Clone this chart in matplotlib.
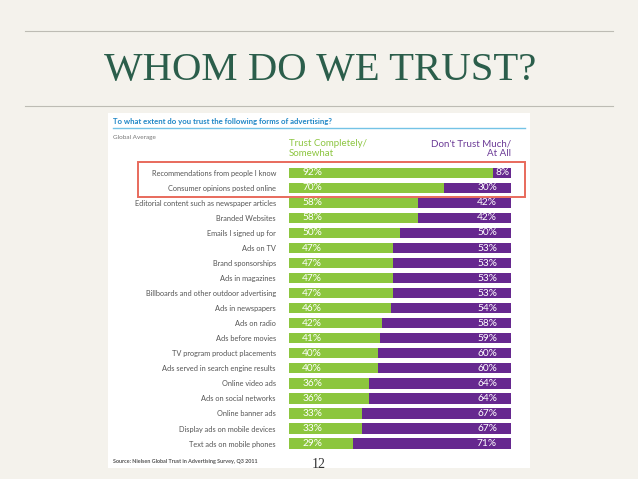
import matplotlib.pyplot as plt
from matplotlib.patches import Rectangle

# data
categories = [
    'Recommendations from people I know',
    'Consumer opinions posted online',
    'Editorial content such as newspaper articles',
    'Branded Websites',
    'Emails I signed up for',
    'Ads on TV',
    'Brand sponsorships',
    'Ads in magazines',
    'Billboards and other outdoor advertising',
    'Ads in newspapers',
    'Ads on radio',
    'Ads before movies',
    'TV program product placements',
    'Ads served in search engine results',
    'Online video ads',
    'Ads on social networks',
    'Online banner ads',
    'Display ads on mobile devices',
    'Text ads on mobile phones',
]
trust = [92, 70, 58, 58, 50, 47, 47, 47, 47, 46, 42, 41, 40, 40, 36, 36, 33, 33, 29]
distrust = [8, 30, 42, 42, 50, 53, 53, 53, 53, 54, 58, 59, 60, 60, 64, 64, 67, 67, 71]

W, H = 638, 479
GREEN = '#8cc63e'
PURPLE = '#66288f'
BG = '#f4f2ec'

plt.rcParams['font.family'] = ['Lato', 'DejaVu Sans']

fig = plt.figure(figsize=(W / 100, H / 100), dpi=100, facecolor=BG)

# background layer in pixel coordinates
bg = fig.add_axes([0, 0, 1, 1])
bg.set_xlim(0, W)
bg.set_ylim(H, 0)
bg.axis('off')

bg.plot([25, 613], [31, 31], color='#bdbcb4', lw=0.8)
bg.plot([25, 613], [106, 106], color='#bdbcb4', lw=0.8)
bg.text(320, 70, 'WHOM DO WE TRUST?', ha='center', va='center',
        fontsize=29.3, color='#2b5e4b', family=['Liberation Serif'])

# white chart panel
bg.add_patch(Rectangle((108, 113), 422, 355, facecolor='white', edgecolor='none'))
bg.text(113, 121, 'To what extent do you trust the following forms of advertising?',
        ha='left', va='center', fontsize=5.6, color='#1f86c6', fontweight='bold')
bg.plot([113, 525], [128, 128], color='#74c3e6', lw=1.0)
bg.text(113, 138, 'Global Average', ha='left', va='center', fontsize=4.6, color='#777777')
bg.text(289, 148.5, 'Trust Completely/\nSomewhat', ha='left', va='center',
        fontsize=7, color='#8dc641', linespacing=1.1)
bg.text(511, 148.5, "Don't Trust Much/\nAt All", ha='right', va='center',
        fontsize=7, color='#6b3a96', linespacing=1.1)
bg.text(113, 462, 'Source: Nielsen Global Trust in Advertising Survey, Q3 2011',
        ha='left', va='center', fontsize=3.9, color='#555555', fontweight='bold')
bg.text(319, 465, '12', ha='center', va='center', fontsize=10, color='#333333',
        family=['Liberation Serif'])

# highlight box around top two rows
bg.add_patch(Rectangle((138, 162), 387, 34.5, facecolor='none', edgecolor='#e86a5c', lw=1.4))

# bar chart
ax = fig.add_axes([289 / W, 1 - 451.1 / H, 222 / W, 285.8 / H])
ax.set_facecolor('none')
y = list(range(len(categories)))
ax.barh(y, trust, height=0.68, color=GREEN, edgecolor='none')
ax.barh(y, distrust, left=trust, height=0.68, color=PURPLE, edgecolor='none')
for i, (t, d) in enumerate(zip(trust, distrust)):
    ax.text(5.9, i, f'{t}%', ha='left', va='center', color='white', fontsize=7.3)
    xd = 99.6 if d < 15 else 93.7
    ax.text(xd, i, f'{d}%', ha='right', va='center', color='white', fontsize=7.3)
ax.set_xlim(0, 100)
ax.set_ylim(len(categories) - 0.5, -0.5)
ax.set_yticks(y)
ax.set_yticklabels(categories, fontsize=5.3, color='#555555')
ax.tick_params(axis='y', length=0, pad=9.4)
ax.set_xticks([])
for s in ax.spines.values():
    s.set_visible(False)

fig.savefig('out.png', dpi=100, facecolor=BG)
